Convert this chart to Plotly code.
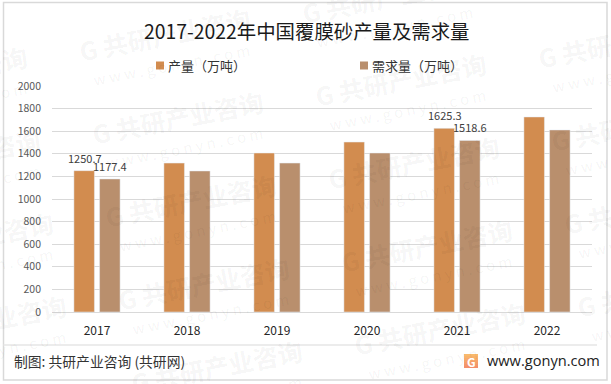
import plotly.graph_objects as go

W, H = 611, 384
ML, MR, MT, MB = 52, 19, 86, 72
years = ["2017", "2018", "2019", "2020", "2021", "2022"]
output = [1250.7, 1318, 1407, 1504, 1625.3, 1726]
demand = [1177.4, 1248, 1318, 1407, 1518.6, 1611]
output_labels = ["1250.7", "", "", "", "1625.3", ""]
demand_labels = ["1177.4", "", "", "", "1518.6", ""]
ticks = list(range(0, 2001, 200))
FONT = "Noto Sans CJK SC"
C1, C2 = "#D28C4F", "#B98F6D"

def px(x):
    return (x - ML) / (W - ML - MR)

def py(y):
    return 1 - (y - MT) / (H - MT - MB)

def label(x, y, text, size, color, family=FONT, xanchor="center", angle=0):
    return dict(x=px(x), y=py(y), xref="paper", yref="paper", text=text, showarrow=False,
                xanchor=xanchor, yanchor="middle", textangle=angle,
                font=dict(size=size, color=color, family=family))

fig = go.Figure()
fig.add_bar(name="产量（万吨）", x=years, y=output, marker_color=C1, showlegend=False)
fig.add_bar(name="需求量（万吨）", x=years, y=demand, marker_color=C2, showlegend=False)

ann = []
shapes = []
WM = "rgba(0,0,0,0.05)"
for i in range(-1, 3):
    for j in range(-1, 5):
        gx = 80 + 236 * i + 13 * j
        gy = 50 + 45 * i + 83 * j
        cx = gx + 85
        cy = gy - 16
        if cx < -60 or cx > W + 60 or cy < -20 or cy > H + 20:
            continue
        ann.append(label(cx, cy, "<b>G 共研产业咨询</b>", 25, WM, angle=-11))
        ann.append(label(cx + 6, cy + 30, "w w w . g o n y n . c o m", 15, WM, angle=-11))

shapes.append(dict(type="rect", xref="paper", yref="paper", x0=px(3.5), x1=px(607), y0=py(2.5), y1=py(380),
                   line=dict(color="#D9D9D9", width=1.5)))
shapes.append(dict(type="line", xref="paper", yref="paper", x0=px(3.5), x1=px(597), y0=py(345), y1=py(345),
                   line=dict(color="#E6E6E6", width=1.5)))
logo_cols = ["#F9B96C", "#F8B26B", "#F7AB6A", "#F6A46A", "#F59D6A", "#F4966A", "#F38F6A"]
for k, c in enumerate(logo_cols):
    shapes.append(dict(type="rect", xref="paper", yref="paper", x0=px(464), x1=px(478),
                       y0=py(354 + 2 * k), y1=py(356 + 2 * k), fillcolor=c, line=dict(width=0)))
for x0, c in [(156, C1), (360, C2)]:
    shapes.append(dict(type="rect", xref="paper", yref="paper", x0=px(x0), x1=px(x0 + 8),
                       y0=py(61.5), y1=py(69.5), fillcolor=c, line=dict(width=0)))

# data labels (category index on the shared x axis)
for series, texts, shift in [(output, output_labels, -12.5), (demand, demand_labels, 12.8)]:
    for idx, (v, t) in enumerate(zip(series, texts)):
        if t:
            ann.append(dict(x=idx, y=v, xref="x", yref="y", text=t, showarrow=False,
                            xanchor="center", yanchor="middle", xshift=shift, yshift=13,
                            font=dict(size=11, color="#404040", family=FONT)))

ann += [
    label(306.5, 31, "2017-2022年中国覆膜砂产量及需求量", 19.4, "#1A1A1A"),
    label(166, 65, "产量（万吨）", 13, "#333333", xanchor="left"),
    label(370, 65, "需求量（万吨）", 13, "#333333", xanchor="left"),
    label(12, 361, "制图: 共研产业咨询 (共研网)", 13.8, "#333333", xanchor="left"),
    label(471, 361, "<b>G</b>", 12, "#FFFFFF"),
    label(484.5, 360, "www.gonyn.com", 14.6, "#222222", family="Open Sans", xanchor="left"),
]

fig.update_layout(
    width=W, height=H, margin=dict(l=ML, r=MR, t=MT, b=MB, pad=0),
    paper_bgcolor="white", plot_bgcolor="rgba(0,0,0,0)",
    barmode="group", bargap=0.43, bargroupgap=0.2,
    showlegend=False,
    xaxis=dict(type="category", categoryorder="array", categoryarray=years, range=[-0.5, 5.5],
               showgrid=False, showline=True, linecolor="#D9D9D9", linewidth=1, ticks="",
               ticklabelstandoff=8, tickfont=dict(size=12, color="#262626", family=FONT)),
    yaxis=dict(range=[0, 2000], tickvals=ticks, gridcolor="#D9D9D9", gridwidth=1, showline=False, zeroline=False,
               ticklabelstandoff=10, tickfont=dict(size=10.5, color="#595959", family=FONT), ticks=""),
    annotations=ann, shapes=shapes,
)
fig.write_html("out.html", config={"displayModeBar": False}, post_script="document.body.style.margin='0';")
